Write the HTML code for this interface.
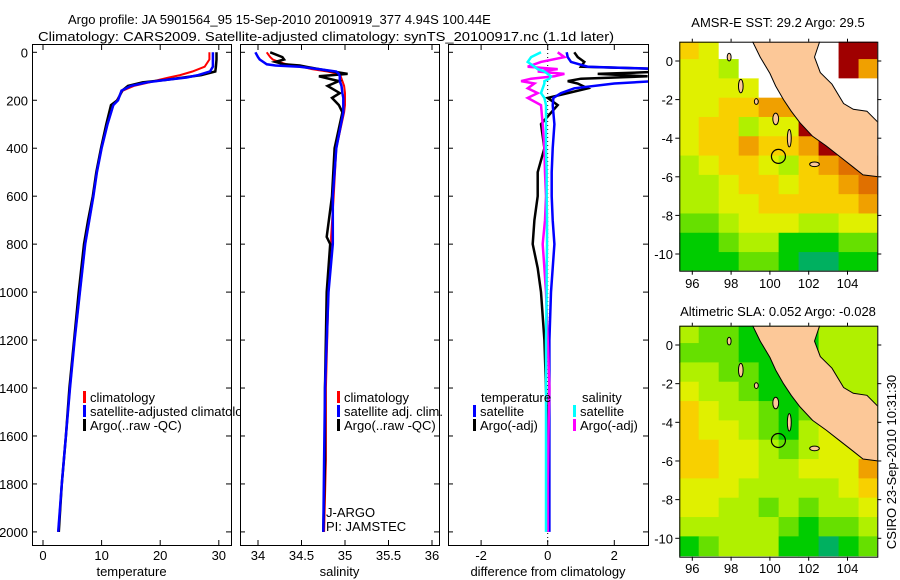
<!DOCTYPE html>
<html><head><meta charset="utf-8">
<style>
body{margin:0;background:#fff;}
svg{display:block;font-family:"Liberation Sans",sans-serif;}
text{font-size:13px;fill:#000;}
</style></head>
<body>
<svg id="c" width="900" height="580" viewBox="0 0 900 580" xmlns="http://www.w3.org/2000/svg">
<rect width="900" height="580" fill="#fff"/>
<text x="68" y="24">Argo profile: JA 5901564_95 15-Sep-2010 20100919_377 4.94S 100.44E</text>
<text x="38" y="41" textLength="576" lengthAdjust="spacingAndGlyphs">Climatology: CARS2009. Satellite-adjusted climatology: synTS_20100917.nc (1.1d later)</text>
<text x="778" y="27" text-anchor="middle">AMSR-E SST: 29.2 Argo: 29.5</text>
<text x="778" y="316" text-anchor="middle">Altimetric SLA: 0.052 Argo: -0.028</text>
<text transform="translate(896,462) rotate(-90)" text-anchor="middle">CSIRO 23-Sep-2010 10:31:30</text>
<g id="g"></g>
</svg>
<script>
// ---- profile data ----
const tempDepths = [0,30,60,80,95,105,115,125,140,160,200,220,300,400,500,600,700,800,1000,1200,1400,1600,1800,2000];
const tempClim   = [28.4,28.4,27.6,25.5,23.4,21.5,19.8,18.2,15.5,13.6,12.6,12.0,11.0,10.0,9.2,8.6,7.9,7.2,6.3,5.4,4.6,3.9,3.2,2.6];
const tempSat    = [29.0,29.0,29.0,28.5,26.5,24.5,21.0,17.8,15.0,13.4,12.8,12.0,11.0,10.0,9.2,8.6,7.9,7.2,6.3,5.4,4.6,3.9,3.2,2.6];
const tempArgo   = [29.6,29.6,29.5,29.4,27.0,24.0,21.0,17.0,14.5,13.5,12.7,11.6,10.8,9.9,9.1,8.5,7.7,7.0,6.1,5.3,4.5,3.9,3.2,2.7];
const salDepths = [0,20,30,40,50,55,60,70,80,90,100,120,140,170,190,220,250,400,600,770,800,1000,1400,1700,2000];
const salClim   = [34.10,34.14,34.17,34.24,34.33,34.42,34.50,34.62,34.80,34.92,34.95,34.97,34.99,35.0,35.0,35.0,34.99,34.90,34.87,34.84,34.84,34.81,34.78,34.78,34.76];
const salSat    = [33.97,34.0,34.02,34.06,34.10,34.20,34.48,34.70,34.90,34.93,34.94,34.94,34.96,34.97,34.98,34.98,34.98,34.90,34.86,34.86,34.86,34.81,34.77,34.76,34.75];
const salArgo   = [34.14,34.28,34.30,34.20,34.30,34.48,34.55,34.70,34.86,35.03,34.70,34.93,34.80,34.94,34.85,34.93,34.97,34.88,34.85,34.79,34.83,34.79,34.77,34.77,34.75];
const diffDepths = [0,20,40,60,70,80,90,100,110,120,130,150,170,190,220,300,400,500,600,700,800,900,1000,1200,1400,1600,1800,2000];
const diffTempSat  = [0.57,0.6,0.7,1.2,3.5,3.8,3.8,3.6,3.5,3.2,2.0,0.8,0.4,0.17,0.15,0.2,0.15,0.12,0.12,0.15,0.2,0.15,0.1,0.05,0.05,0.05,0.05,0.05];
const diffTempArgo = [0.8,0.9,1.1,1.0,3.5,3.6,1.5,3.0,1.0,0.6,0.9,1.2,0.6,0.0,0.3,-0.2,-0.1,-0.3,-0.3,-0.4,-0.45,-0.3,-0.2,-0.1,-0.05,0.0,0.0,0.0];
const diffSalSat   = [-0.2,-0.5,-0.6,-0.4,-0.3,-0.1,0.0,0.1,0.05,-0.1,-0.1,-0.15,-0.2,-0.1,-0.05,-0.05,-0.05,-0.03,-0.03,-0.02,-0.02,-0.03,-0.03,-0.05,-0.05,-0.05,-0.05,-0.05];
const diffSalArgo  = [0.3,0.5,-0.2,-0.6,0.3,-0.3,0.5,0.2,-0.5,-0.8,-0.4,-0.6,-0.3,-0.6,-0.2,-0.15,-0.1,-0.08,-0.05,-0.08,-0.15,-0.1,-0.05,0.0,0.05,0.02,0.0,0.0];
// ---- map data (rows lat 1..-11, cols lon 95.3..105.5) ----
const sstGrid = [
[5,4,9,9,9,9,9,9,8,8],[4,4,3,9,9,9,9,9,8,6],[4,4,4,4,9,9,9,9,9,9],[4,4,5,5,6,6,9,9,9,9],
[4,5,5,3,4,4,8,8,9,9],[4,5,5,6,5,5,6,8,7,9],[3,4,5,5,4,3,5,6,7,7],[3,3,4,5,5,4,5,5,6,7],
[3,3,4,4,5,5,5,5,5,6],[2,2,3,4,4,4,3,3,4,4],[1,1,2,3,3,1,1,1,2,2],[1,1,1,2,2,1,0,0,1,1]];
const slaGrid = [
[3,2,2,1,1,1,1,3,3,3],[2,2,2,1,1,1,1,3,3,3],[3,3,2,2,1,1,2,3,3,3],[4,3,3,2,1,1,2,3,3,3],
[5,4,3,3,2,1,2,3,3,3],[5,4,4,3,2,1,3,4,3,3],[5,5,4,4,3,2,3,4,4,4],[5,5,4,4,3,3,4,4,4,6],
[4,4,4,3,3,3,3,3,4,5],[4,4,3,3,2,3,2,3,3,4],[3,3,3,3,3,2,1,2,2,3],[1,2,3,3,3,1,1,0,1,2]];
const palette = ['#00b060','#00cc00','#66e000','#b0f000','#e0f000','#f8d000','#f0a000','#e07000','#a00000','#ffffff'];
const tempTicks=[0,10,20,30], salTicks=[34,34.5,35,35.5,36], diffTicks=[-2,0,2], depthTicks=[0,200,400,600,800,1000,1200,1400,1600,1800,2000];
const lonTicks=[96,98,100,102,104], latTicks=[0,-2,-4,-6,-8,-10];
const argoLon=100.44, argoLat=-4.94;

const NS='http://www.w3.org/2000/svg', G=document.getElementById('g');
function el(tag,a,parent){const e=document.createElementNS(NS,tag);for(const k in a)e.setAttribute(k,a[k]);(parent||G).appendChild(e);return e;}
const depthY=d=>52.3+0.2398*d;
const tempX=t=>43+5.86*t, salX=s=>258+87*(s-34), diffX=d=>547.7+33.3*d;
const panels=[{x0:32,x1:231,f:tempX,ticks:tempTicks,lab:'temperature',name:'temperature-panel'},
{x0:240,x1:439,f:salX,ticks:salTicks,lab:'salinity',name:'salinity-panel'},
{x0:448,x1:648,f:diffX,ticks:diffTicks,lab:'difference from climatology',name:'difference-panel'}];
const defs=el('defs',{});
panels.forEach((p,i)=>{
  const cp=el('clipPath',{id:'cp'+i},defs);el('rect',{x:p.x0,y:44,width:p.x1-p.x0,height:501},cp);
  const lp=el('clipPath',{id:'lp'+i},defs);el('rect',{x:p.x0,y:44,width:p.x1-p.x0+9,height:501},lp);
  const r=el('rect',{x:p.x0+0.5,y:44.5,width:p.x1-p.x0,height:501,fill:'none',stroke:'#000'});
  
  p.ticks.forEach(t=>{const x=p.f(t);
    el('line',{x1:x,y1:545,x2:x,y2:540,stroke:'#000'});el('line',{x1:x,y1:45,x2:x,y2:50,stroke:'#000'});
    const tx=el('text',{x:x,y:560,'text-anchor':'middle'});tx.textContent=t;
    });
  const al=el('text',{x:(p.x0+p.x1)/2,y:576,'text-anchor':'middle'});al.textContent=p.lab;
  
  depthTicks.forEach(d=>{const y=depthY(d);
    el('line',{x1:p.x0,y1:y,x2:p.x0+5,y2:y,stroke:'#000'});el('line',{x1:p.x1-5,y1:y,x2:p.x1,y2:y,stroke:'#000'});
    if(i==0){const tx=el('text',{x:28,y:y+5,'text-anchor':'end'});tx.textContent=d;
      }});
});
el('line',{x1:diffX(0),y1:45,x2:diffX(0),y2:545,stroke:'#000','stroke-dasharray':'1,3'});
function series(xs,ds,f,col,name,ci,w){
  const pts=xs.map((v,k)=>f(v).toFixed(1)+','+depthY(ds[k]).toFixed(1)).join(' ');
  const pl=el('polyline',{points:pts,fill:'none',stroke:col,'stroke-width':w||2.5,'clip-path':'url(#cp'+ci+')'});
  }
series(tempClim,tempDepths,tempX,'#f00','temp-climatology-line',0,2);
series(tempArgo,tempDepths,tempX,'#000','temp-argo-line',0);
series(tempSat,tempDepths,tempX,'#00f','temp-satellite-line',0);
series(salClim,salDepths,salX,'#f00','sal-climatology-line',1,2);
series(salArgo,salDepths,salX,'#000','sal-argo-line',1);
series(salSat,salDepths,salX,'#00f','sal-satellite-line',1);
series(diffTempArgo,diffDepths,diffX,'#000','diff-temp-argo-line',2);
series(diffTempSat,diffDepths,diffX,'#00f','diff-temp-satellite-line',2);
series(diffSalArgo,diffDepths,diffX,'#f0f','diff-sal-argo-line',2);
series(diffSalSat,diffDepths,diffX,'#0ff','diff-sal-satellite-line',2);
function leg(x,y,col,txt,ci){el('rect',{x:x,y:y-11,width:3,height:12,fill:col});
  const t=el('text',{x:x+7,y:y,'clip-path':'url(#lp'+ci+')'});t.textContent=txt;}
leg(83,402,'#f00','climatology',0);leg(83,416,'#00f','satellite-adjusted climatology',0);leg(83,430,'#000','Argo(..raw -QC)',0);
leg(337,402,'#f00','climatology',1);leg(337,416,'#00f','satellite adj. clim.',1);leg(337,430,'#000','Argo(..raw -QC)',1);
let t1=el('text',{x:481,y:402});t1.textContent='temperature';
let t2=el('text',{x:582,y:402});t2.textContent='salinity';
leg(473,416,'#00f','satellite',2);leg(473,430,'#000','Argo(-adj)',2);leg(573,416,'#0ff','satellite',2);leg(573,430,'#f0f','Argo(-adj)',2);
let j1=el('text',{x:326,y:517});j1.textContent='J-ARGO';
let j2=el('text',{x:326,y:531});j2.textContent='PI: JAMSTEC';
// ---- maps ----
const land=[[99.06,1.1],[99.5,0.2],[100.0,-0.64],[100.3,-1.3],[100.7,-2.0],[101.1,-2.6],[101.55,-3.2],[102.2,-3.9],[102.9,-4.4],[103.6,-4.95],[104.3,-5.5],[104.8,-5.9],[105.6,-6.0],[105.6,-3.2],[105.0,-2.6],[104.3,-2.5],[103.8,-2.2],[103.2,-1.2],[102.6,-0.6],[102.3,0.2],[102.6,1.1]];
const islands=[[98.5,-1.3,0.12,0.35],[97.9,0.2,0.1,0.2],[99.3,-2.1,0.1,0.15],[100.3,-3.0,0.15,0.3],[101.0,-4.0,0.1,0.45],[102.3,-5.35,0.25,0.12]];
function map(top,bottom,lat0,lat10,grid,name,labY){
  const x0=679.3,x1=877.3;const ppd=(lat10-lat0)/10;
  const lonX=l=>679.3+(l-95.33)*19.4, latY=a=>lat0-a*ppd;
  const id='m'+name;const cp=el('clipPath',{id:id},defs);el('rect',{x:x0,y:top,width:x1-x0,height:bottom-top},cp);
  const g=el('g',{'clip-path':'url(#'+id+')'});
  
  grid.forEach((row,r)=>row.forEach((v,c)=>{const lonA=95.3+c*1.03,la=1.1-r*1.0;
    const cell=el('rect',{x:lonX(lonA),y:latY(la),width:19.4*1.03+0.6,height:ppd+0.6,fill:palette[v]},g);
    }));
  const lp=el('polygon',{points:land.map(p=>lonX(p[0]).toFixed(1)+','+latY(p[1]).toFixed(1)).join(' '),fill:'#fcc898',stroke:'#000','stroke-width':1},g);
  
  islands.forEach(s=>{
    const e=el('ellipse',{cx:lonX(s[0]),cy:latY(s[1]),rx:s[2]*19.4,ry:s[3]*ppd,fill:'#fcc898',stroke:'#000'},g);
    });
  const c=el('circle',{cx:lonX(argoLon),cy:latY(argoLat),r:7,fill:'none',stroke:'#000','stroke-width':1.2});
  
  el('rect',{x:x0+0.5,y:top+0.5,width:x1-x0,height:bottom-top,fill:'none',stroke:'#000'});
  lonTicks.forEach(l=>{const x=lonX(l);el('line',{x1:x,y1:bottom,x2:x,y2:bottom+4,stroke:'#000'});el('line',{x1:x,y1:top,x2:x,y2:top-3,stroke:'#000'});
    const t=el('text',{x:x,y:labY,'text-anchor':'middle'});t.textContent=l;});
  latTicks.forEach(a=>{const y=latY(a);el('line',{x1:x0-4,y1:y,x2:x0,y2:y,stroke:'#000'});el('line',{x1:x1,y1:y,x2:x1+4,y2:y,stroke:'#000'});
    const t=el('text',{x:673,y:y+5,'text-anchor':'end'});t.textContent=a;});
}
map(41.7,270.7,61,254,sstGrid,'sst-map',288);
map(325.7,556.7,345,538.3,slaGrid,'sla-map',573);
</script>
</body></html>
